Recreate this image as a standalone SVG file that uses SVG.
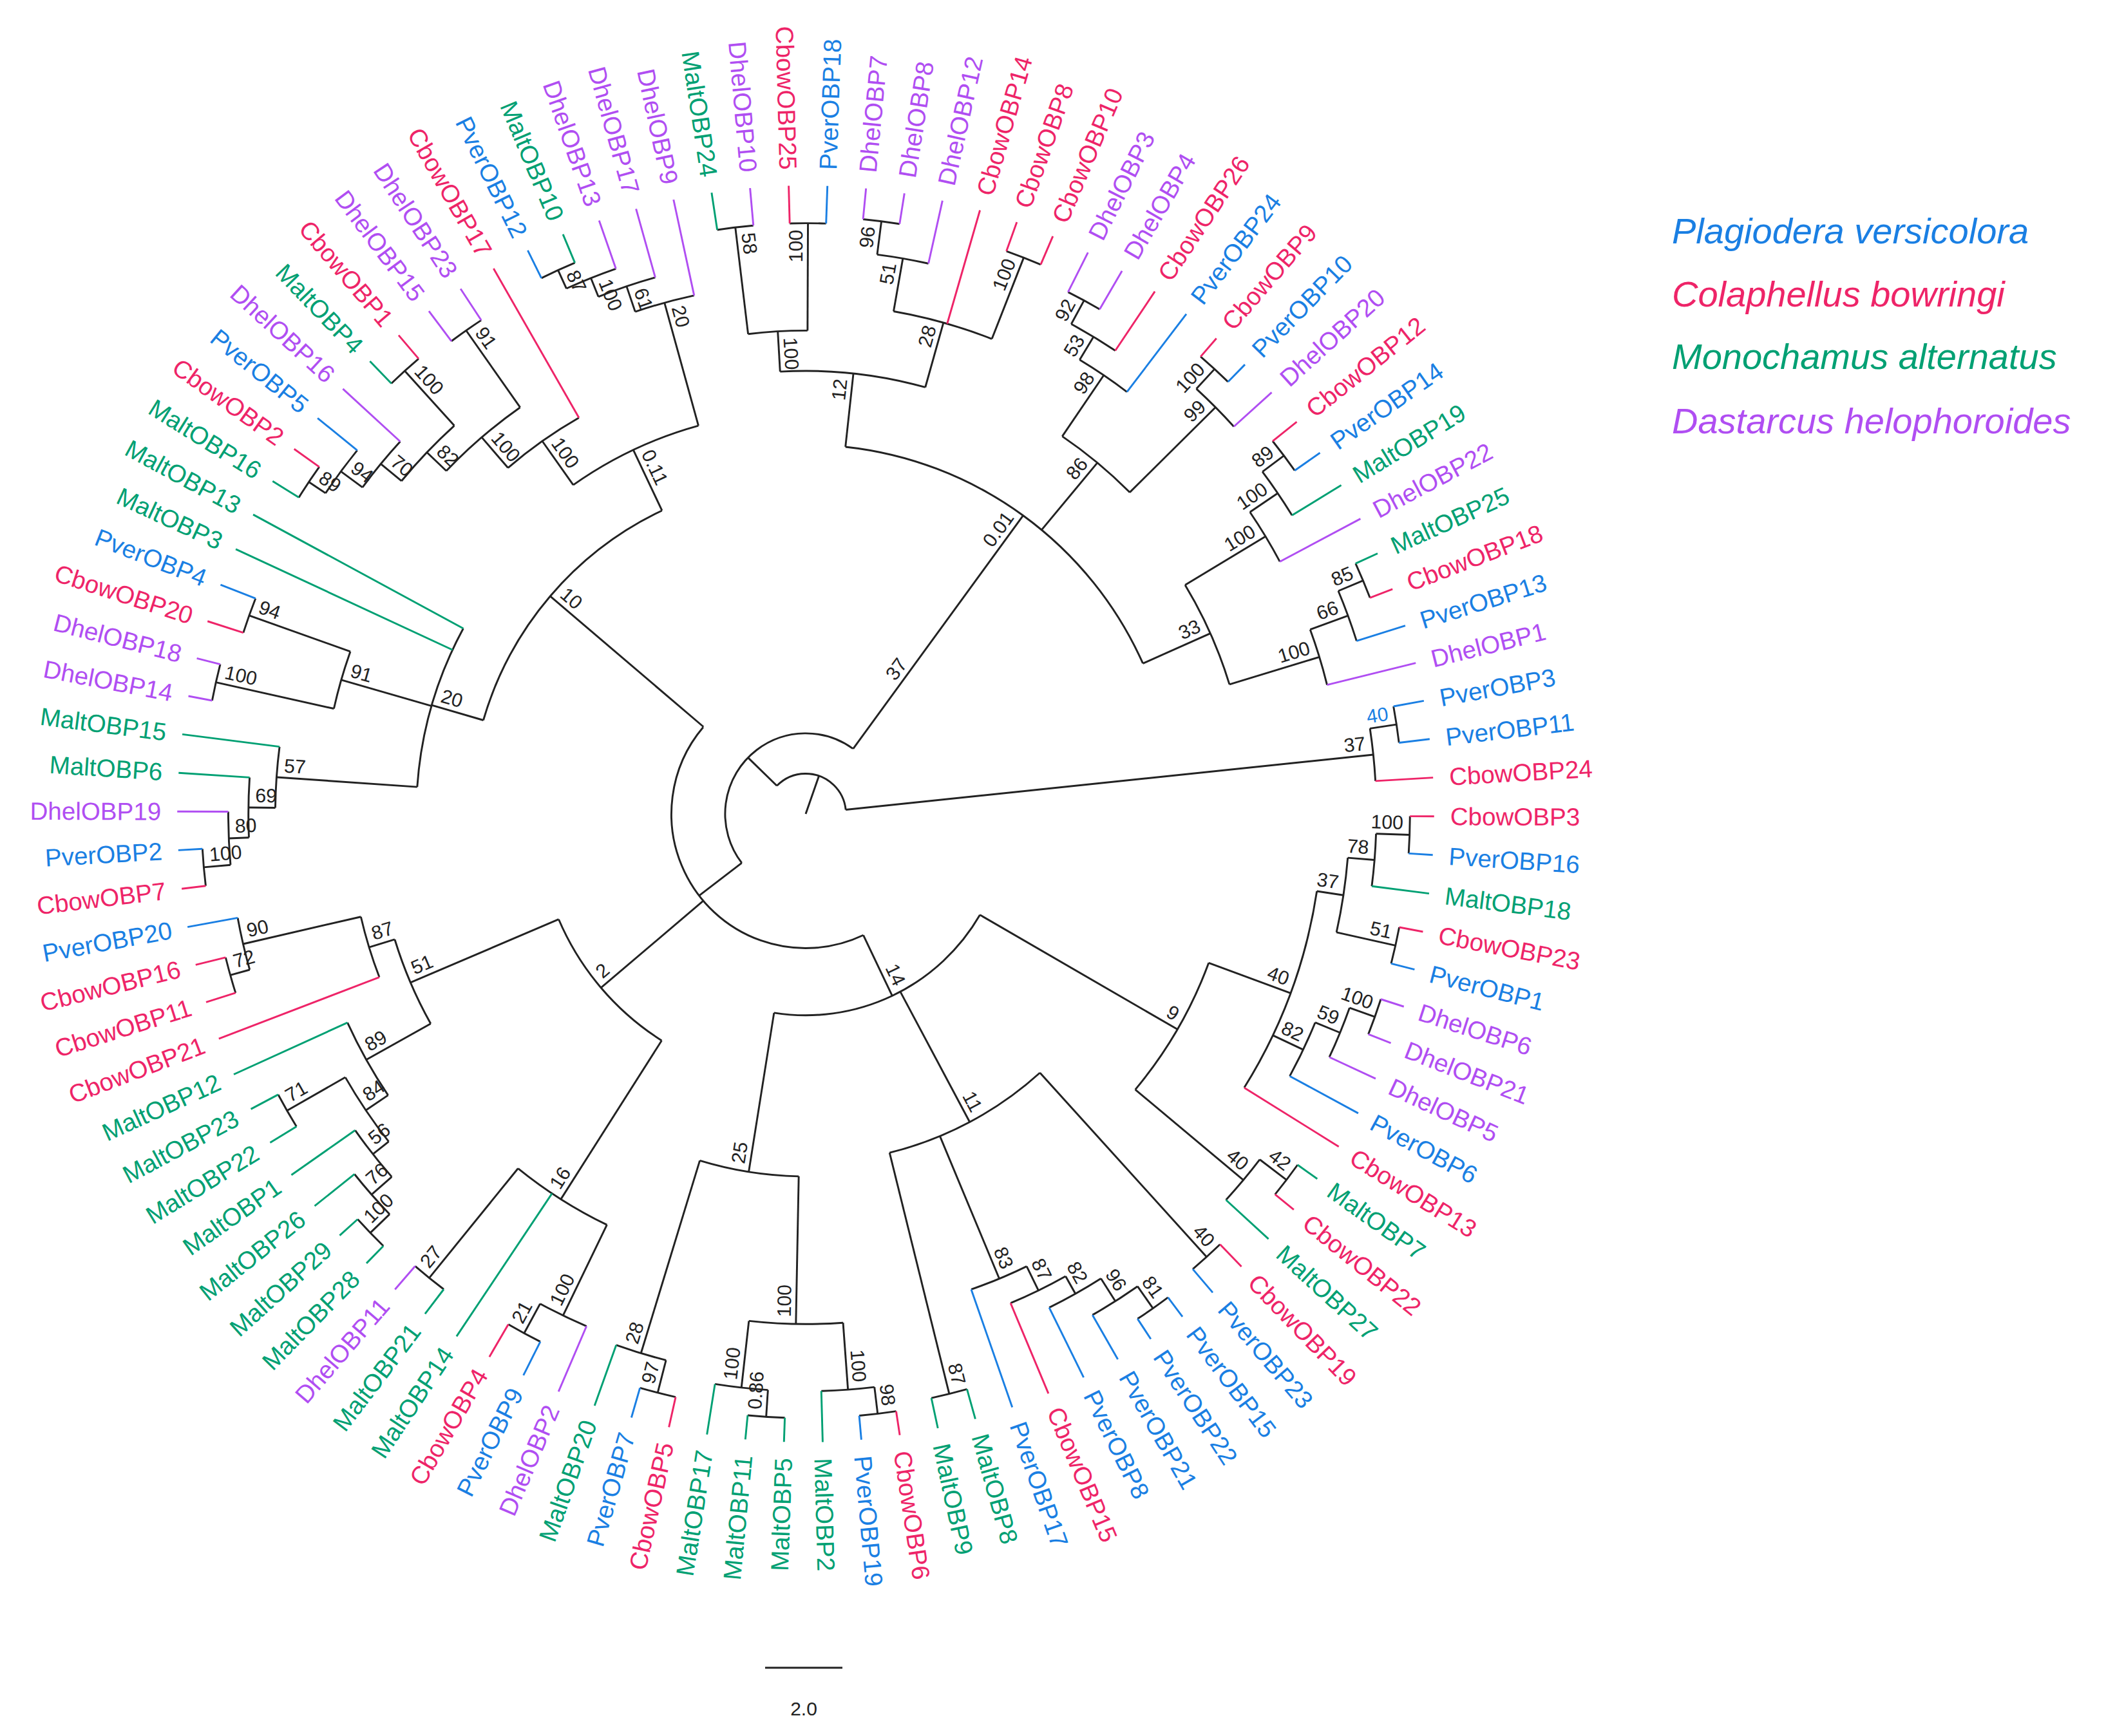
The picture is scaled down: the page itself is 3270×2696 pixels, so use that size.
<svg xmlns="http://www.w3.org/2000/svg" width="3270" height="2696" viewBox="0 0 3270 2696">
<style>
text{font-family:"Liberation Sans",Arial,sans-serif}
.lf{font-size:18.5px}
.tP{fill:#1a7fe3}.tC{fill:#ee2468}.tM{fill:#00a073}.tD{fill:#b04ef2}
.sP{stroke:#1a7fe3}.sC{stroke:#ee2468}.sM{stroke:#00a073}.sD{stroke:#b04ef2}
#connectors line,#connectors circle{fill:none;stroke-width:1.4}
.k{stroke:#222}
.bs text{font-size:14.5px;fill:#222}
.lg{font-size:56px;font-style:italic}
</style>
<rect width="3270" height="2696" fill="#fff"/>
<g transform="translate(1251,1264) scale(2.085)">
<g id="connectors">
<g class="k">
<circle r="445" pathLength="360" stroke-dasharray="3.53 360" transform="rotate(-10.37)"/><line x1="425" x2="445" transform="rotate(-8.61)"/>
<circle r="425" pathLength="360" stroke-dasharray="5.30 360" transform="rotate(-8.61)"/><line x1="30" x2="425" transform="rotate(-5.96)"/>
<circle r="440" pathLength="360" stroke-dasharray="3.53 360" transform="rotate(261.39)"/><line x1="360" x2="440" transform="rotate(263.16)"/>
<circle r="440" pathLength="360" stroke-dasharray="3.53 360" transform="rotate(268.45)"/><line x1="360" x2="440" transform="rotate(270.22)"/>
<circle r="360" pathLength="360" stroke-dasharray="7.06 360" transform="rotate(263.16)"/><line x1="330" x2="360" transform="rotate(266.69)"/>
<circle r="445" pathLength="360" stroke-dasharray="3.53 360" transform="rotate(275.51)"/><line x1="420" x2="445" transform="rotate(277.28)"/>
<circle r="420" pathLength="360" stroke-dasharray="5.29 360" transform="rotate(277.28)"/><line x1="380" x2="420" transform="rotate(279.92)"/>
<circle r="445" pathLength="360" stroke-dasharray="3.53 360" transform="rotate(289.63)"/><line x1="380" x2="445" transform="rotate(291.40)"/>
<circle r="380" pathLength="360" stroke-dasharray="11.48 360" transform="rotate(279.92)"/><line x1="330" x2="380" transform="rotate(285.66)"/>
<circle r="330" pathLength="360" stroke-dasharray="18.97 360" transform="rotate(266.69)"/><line x1="275" x2="330" transform="rotate(276.18)"/>
<circle r="435" pathLength="360" stroke-dasharray="3.53 360" transform="rotate(296.69)"/><line x1="415" x2="435" transform="rotate(298.46)"/>
<circle r="415" pathLength="360" stroke-dasharray="5.29 360" transform="rotate(298.46)"/><line x1="395" x2="415" transform="rotate(301.10)"/>
<circle r="395" pathLength="360" stroke-dasharray="6.18 360" transform="rotate(301.10)"/><line x1="340" x2="395" transform="rotate(304.19)"/>
<circle r="450" pathLength="360" stroke-dasharray="3.53 360" transform="rotate(310.81)"/><line x1="430" x2="450" transform="rotate(312.58)"/>
<circle r="430" pathLength="360" stroke-dasharray="5.28 360" transform="rotate(312.58)"/><line x1="340" x2="430" transform="rotate(315.22)"/>
<circle r="340" pathLength="360" stroke-dasharray="11.03 360" transform="rotate(304.19)"/><line x1="275" x2="340" transform="rotate(309.71)"/>
<circle r="445" pathLength="360" stroke-dasharray="3.53 360" transform="rotate(321.39)"/><line x1="425" x2="445" transform="rotate(323.16)"/>
<circle r="425" pathLength="360" stroke-dasharray="5.29 360" transform="rotate(323.16)"/><line x1="400" x2="425" transform="rotate(325.80)"/>
<circle r="400" pathLength="360" stroke-dasharray="6.18 360" transform="rotate(325.80)"/><line x1="330" x2="400" transform="rotate(328.89)"/>
<circle r="450" pathLength="360" stroke-dasharray="3.53 360" transform="rotate(335.51)"/><line x1="430" x2="450" transform="rotate(337.28)"/>
<circle r="430" pathLength="360" stroke-dasharray="5.29 360" transform="rotate(337.28)"/><line x1="400" x2="430" transform="rotate(339.92)"/>
<circle r="400" pathLength="360" stroke-dasharray="6.18 360" transform="rotate(339.92)"/><line x1="330" x2="400" transform="rotate(343.01)"/>
<circle r="330" pathLength="360" stroke-dasharray="14.12 360" transform="rotate(328.89)"/><line x1="275" x2="330" transform="rotate(335.95)"/>
<circle r="275" pathLength="360" stroke-dasharray="59.77 360" transform="rotate(276.18)"/><line x1="60" x2="275" transform="rotate(306.07)"/>
<circle r="450" pathLength="360" stroke-dasharray="3.53 360" transform="rotate(0.22)"/><line x1="425" x2="450" transform="rotate(1.99)"/>
<circle r="425" pathLength="360" stroke-dasharray="5.29 360" transform="rotate(1.99)"/><line x1="405" x2="425" transform="rotate(4.63)"/>
<circle r="450" pathLength="360" stroke-dasharray="3.53 360" transform="rotate(10.81)"/><line x1="405" x2="450" transform="rotate(12.58)"/>
<circle r="405" pathLength="360" stroke-dasharray="7.95 360" transform="rotate(4.63)"/><line x1="385" x2="405" transform="rotate(8.60)"/>
<circle r="450" pathLength="360" stroke-dasharray="3.53 360" transform="rotate(17.86)"/><line x1="430" x2="450" transform="rotate(19.63)"/>
<circle r="430" pathLength="360" stroke-dasharray="5.29 360" transform="rotate(19.63)"/><line x1="410" x2="430" transform="rotate(22.27)"/>
<circle r="410" pathLength="360" stroke-dasharray="6.18 360" transform="rotate(22.27)"/><line x1="385" x2="410" transform="rotate(25.36)"/>
<circle r="385" pathLength="360" stroke-dasharray="23.38 360" transform="rotate(8.60)"/><line x1="320" x2="385" transform="rotate(20.29)"/>
<circle r="450" pathLength="360" stroke-dasharray="3.53 360" transform="rotate(35.51)"/><line x1="425" x2="450" transform="rotate(37.28)"/>
<circle r="425" pathLength="360" stroke-dasharray="5.29 360" transform="rotate(37.28)"/><line x1="320" x2="425" transform="rotate(39.92)"/>
<circle r="320" pathLength="360" stroke-dasharray="19.63 360" transform="rotate(20.29)"/><line x1="150" x2="320" transform="rotate(30.10)"/>
<circle r="445" pathLength="360" stroke-dasharray="3.53 360" transform="rotate(46.10)"/><line x1="260" x2="445" transform="rotate(47.86)"/>
<circle r="450" pathLength="360" stroke-dasharray="3.53 360" transform="rotate(53.16)"/><line x1="430" x2="450" transform="rotate(54.92)"/>
<circle r="430" pathLength="360" stroke-dasharray="5.30 360" transform="rotate(54.92)"/><line x1="410" x2="430" transform="rotate(57.57)"/>
<circle r="410" pathLength="360" stroke-dasharray="6.18 360" transform="rotate(57.57)"/><line x1="395" x2="410" transform="rotate(60.66)"/>
<circle r="395" pathLength="360" stroke-dasharray="6.62 360" transform="rotate(60.66)"/><line x1="375" x2="395" transform="rotate(63.97)"/>
<circle r="375" pathLength="360" stroke-dasharray="6.84 360" transform="rotate(63.97)"/><line x1="260" x2="375" transform="rotate(67.39)"/>
<circle r="445" pathLength="360" stroke-dasharray="3.52 360" transform="rotate(74.34)"/><line x1="260" x2="445" transform="rotate(76.10)"/>
<circle r="260" pathLength="360" stroke-dasharray="28.24 360" transform="rotate(47.86)"/><line x1="150" x2="260" transform="rotate(61.98)"/>
<circle r="450" pathLength="360" stroke-dasharray="3.53 360" transform="rotate(81.39)"/><line x1="430" x2="450" transform="rotate(83.16)"/>
<circle r="430" pathLength="360" stroke-dasharray="5.29 360" transform="rotate(83.16)"/><line x1="380" x2="430" transform="rotate(85.80)"/>
<circle r="450" pathLength="360" stroke-dasharray="3.53 360" transform="rotate(91.98)"/><line x1="430" x2="450" transform="rotate(93.75)"/>
<circle r="430" pathLength="360" stroke-dasharray="5.29 360" transform="rotate(93.75)"/><line x1="380" x2="430" transform="rotate(96.39)"/>
<circle r="380" pathLength="360" stroke-dasharray="10.59 360" transform="rotate(85.80)"/><line x1="270" x2="380" transform="rotate(91.10)"/>
<circle r="445" pathLength="360" stroke-dasharray="3.53 360" transform="rotate(102.57)"/><line x1="420" x2="445" transform="rotate(104.34)"/>
<circle r="420" pathLength="360" stroke-dasharray="5.29 360" transform="rotate(104.34)"/><line x1="270" x2="420" transform="rotate(106.98)"/>
<circle r="270" pathLength="360" stroke-dasharray="15.88 360" transform="rotate(91.10)"/><line x1="150" x2="270" transform="rotate(99.04)"/>
<circle r="150" pathLength="360" stroke-dasharray="68.94 360" transform="rotate(30.10)"/><line x1="100" x2="150" transform="rotate(64.57)"/>
<circle r="440" pathLength="360" stroke-dasharray="3.53 360" transform="rotate(116.69)"/><line x1="415" x2="440" transform="rotate(118.46)"/>
<circle r="415" pathLength="360" stroke-dasharray="5.30 360" transform="rotate(113.16)"/><line x1="340" x2="415" transform="rotate(115.81)"/>
<circle r="445" pathLength="360" stroke-dasharray="3.53 360" transform="rotate(127.28)"/><line x1="340" x2="445" transform="rotate(129.05)"/>
<circle r="340" pathLength="360" stroke-dasharray="13.24 360" transform="rotate(115.81)"/><line x1="200" x2="340" transform="rotate(122.43)"/>
<circle r="450" pathLength="360" stroke-dasharray="3.52 360" transform="rotate(134.34)"/><line x1="430" x2="450" transform="rotate(136.10)"/>
<circle r="430" pathLength="360" stroke-dasharray="5.29 360" transform="rotate(136.10)"/><line x1="410" x2="430" transform="rotate(138.75)"/>
<circle r="410" pathLength="360" stroke-dasharray="6.17 360" transform="rotate(138.75)"/><line x1="395" x2="410" transform="rotate(141.83)"/>
<circle r="445" pathLength="360" stroke-dasharray="3.53 360" transform="rotate(148.45)"/><line x1="395" x2="445" transform="rotate(150.22)"/>
<circle r="395" pathLength="360" stroke-dasharray="8.39 360" transform="rotate(141.83)"/><line x1="375" x2="395" transform="rotate(146.03)"/>
<circle r="375" pathLength="360" stroke-dasharray="9.48 360" transform="rotate(146.03)"/><line x1="320" x2="375" transform="rotate(150.77)"/>
<circle r="445" pathLength="360" stroke-dasharray="3.53 360" transform="rotate(162.57)"/><line x1="430" x2="445" transform="rotate(164.34)"/>
<circle r="430" pathLength="360" stroke-dasharray="5.29 360" transform="rotate(164.34)"/><line x1="340" x2="430" transform="rotate(166.98)"/>
<circle r="340" pathLength="360" stroke-dasharray="7.94 360" transform="rotate(159.04)"/><line x1="320" x2="340" transform="rotate(163.01)"/>
<circle r="320" pathLength="360" stroke-dasharray="12.24 360" transform="rotate(150.77)"/><line x1="200" x2="320" transform="rotate(156.89)"/>
<circle r="200" pathLength="360" stroke-dasharray="34.46 360" transform="rotate(122.43)"/><line x1="100" x2="200" transform="rotate(139.66)"/>
<circle r="450" pathLength="360" stroke-dasharray="3.53 360" transform="rotate(173.16)"/><line x1="430" x2="450" transform="rotate(174.93)"/>
<circle r="430" pathLength="360" stroke-dasharray="5.29 360" transform="rotate(174.93)"/><line x1="415" x2="430" transform="rotate(177.57)"/>
<circle r="415" pathLength="360" stroke-dasharray="6.18 360" transform="rotate(177.57)"/><line x1="395" x2="415" transform="rotate(180.66)"/>
<circle r="395" pathLength="360" stroke-dasharray="6.62 360" transform="rotate(180.66)"/><line x1="290" x2="395" transform="rotate(183.97)"/>
<circle r="450" pathLength="360" stroke-dasharray="3.53 360" transform="rotate(190.81)"/><line x1="360" x2="450" transform="rotate(192.58)"/>
<circle r="440" pathLength="360" stroke-dasharray="3.53 360" transform="rotate(197.86)"/><line x1="360" x2="440" transform="rotate(199.63)"/>
<circle r="360" pathLength="360" stroke-dasharray="7.05 360" transform="rotate(192.58)"/><line x1="290" x2="360" transform="rotate(196.10)"/>
<circle r="290" pathLength="360" stroke-dasharray="24.48 360" transform="rotate(183.97)"/><line x1="250" x2="290" transform="rotate(196.21)"/>
<circle r="445" pathLength="360" stroke-dasharray="3.53 360" transform="rotate(211.98)"/><line x1="430" x2="445" transform="rotate(213.75)"/>
<circle r="430" pathLength="360" stroke-dasharray="5.29 360" transform="rotate(213.75)"/><line x1="410" x2="430" transform="rotate(216.39)"/>
<circle r="410" pathLength="360" stroke-dasharray="6.18 360" transform="rotate(216.39)"/><line x1="390" x2="410" transform="rotate(219.48)"/>
<circle r="445" pathLength="360" stroke-dasharray="3.53 360" transform="rotate(226.10)"/><line x1="390" x2="445" transform="rotate(227.86)"/>
<circle r="390" pathLength="360" stroke-dasharray="8.38 360" transform="rotate(219.48)"/><line x1="370" x2="390" transform="rotate(223.67)"/>
<circle r="440" pathLength="360" stroke-dasharray="3.53 360" transform="rotate(233.16)"/><line x1="370" x2="440" transform="rotate(234.92)"/>
<circle r="370" pathLength="360" stroke-dasharray="11.25 360" transform="rotate(223.67)"/><line x1="340" x2="370" transform="rotate(229.30)"/>
<circle r="340" pathLength="360" stroke-dasharray="10.92 360" transform="rotate(229.30)"/><line x1="300" x2="340" transform="rotate(234.76)"/>
<circle r="445" pathLength="360" stroke-dasharray="3.53 360" transform="rotate(243.75)"/><line x1="430" x2="445" transform="rotate(245.52)"/>
<circle r="430" pathLength="360" stroke-dasharray="5.29 360" transform="rotate(245.52)"/><line x1="415" x2="430" transform="rotate(248.16)"/>
<circle r="415" pathLength="360" stroke-dasharray="6.18 360" transform="rotate(248.16)"/><line x1="395" x2="415" transform="rotate(251.25)"/>
<circle r="395" pathLength="360" stroke-dasharray="6.61 360" transform="rotate(251.25)"/><line x1="300" x2="395" transform="rotate(254.56)"/>
<circle r="300" pathLength="360" stroke-dasharray="19.80 360" transform="rotate(234.76)"/><line x1="250" x2="300" transform="rotate(244.66)"/>
<circle r="250" pathLength="360" stroke-dasharray="48.45 360" transform="rotate(196.21)"/><line x1="100" x2="250" transform="rotate(220.44)"/>
<circle r="100" pathLength="360" stroke-dasharray="155.87 360" transform="rotate(64.57)"/><line x1="60" x2="100" transform="rotate(142.5)"/>
<circle r="60" pathLength="360" stroke-dasharray="163.57 360" transform="rotate(142.5)"/><line x1="30" x2="60" transform="rotate(224.3)"/>
<circle r="30" pathLength="360" stroke-dasharray="129.74 360" transform="rotate(224.3)"/><line x1="0" x2="30" transform="rotate(289.2)"/>
</g>
<line class="sP" x1="445" x2="468" transform="rotate(-10.37)"/>
<line class="sP" x1="445" x2="468" transform="rotate(-6.84)"/>
<line class="sC" x1="425" x2="468" transform="rotate(-3.31)"/>
<line class="sC" x1="450" x2="468" transform="rotate(0.22)"/>
<line class="sP" x1="450" x2="468" transform="rotate(3.75)"/>
<line class="sM" x1="425" x2="468" transform="rotate(7.28)"/>
<line class="sC" x1="450" x2="468" transform="rotate(10.81)"/>
<line class="sP" x1="450" x2="468" transform="rotate(14.34)"/>
<line class="sD" x1="450" x2="468" transform="rotate(17.86)"/>
<line class="sD" x1="450" x2="468" transform="rotate(21.39)"/>
<line class="sD" x1="430" x2="468" transform="rotate(24.92)"/>
<line class="sP" x1="410" x2="468" transform="rotate(28.45)"/>
<line class="sC" x1="385" x2="468" transform="rotate(31.98)"/>
<line class="sM" x1="450" x2="468" transform="rotate(35.51)"/>
<line class="sC" x1="450" x2="468" transform="rotate(39.04)"/>
<line class="sM" x1="425" x2="468" transform="rotate(42.57)"/>
<line class="sC" x1="445" x2="468" transform="rotate(46.10)"/>
<line class="sP" x1="445" x2="468" transform="rotate(49.63)"/>
<line class="sP" x1="450" x2="468" transform="rotate(53.16)"/>
<line class="sP" x1="450" x2="468" transform="rotate(56.69)"/>
<line class="sP" x1="430" x2="468" transform="rotate(60.22)"/>
<line class="sP" x1="410" x2="468" transform="rotate(63.75)"/>
<line class="sC" x1="395" x2="468" transform="rotate(67.28)"/>
<line class="sP" x1="375" x2="468" transform="rotate(70.81)"/>
<line class="sM" x1="445" x2="468" transform="rotate(74.34)"/>
<line class="sM" x1="445" x2="468" transform="rotate(77.86)"/>
<line class="sC" x1="450" x2="468" transform="rotate(81.39)"/>
<line class="sP" x1="450" x2="468" transform="rotate(84.92)"/>
<line class="sM" x1="430" x2="468" transform="rotate(88.45)"/>
<line class="sM" x1="450" x2="468" transform="rotate(91.98)"/>
<line class="sM" x1="450" x2="468" transform="rotate(95.51)"/>
<line class="sM" x1="430" x2="468" transform="rotate(99.04)"/>
<line class="sC" x1="445" x2="468" transform="rotate(102.57)"/>
<line class="sP" x1="445" x2="468" transform="rotate(106.10)"/>
<line class="sM" x1="420" x2="468" transform="rotate(109.63)"/>
<line class="sD" x1="415" x2="468" transform="rotate(113.16)"/>
<line class="sP" x1="440" x2="468" transform="rotate(116.69)"/>
<line class="sC" x1="440" x2="468" transform="rotate(120.22)"/>
<line class="sM" x1="340" x2="468" transform="rotate(123.75)"/>
<line class="sM" x1="445" x2="468" transform="rotate(127.28)"/>
<line class="sD" x1="445" x2="468" transform="rotate(130.81)"/>
<line class="sM" x1="450" x2="468" transform="rotate(134.34)"/>
<line class="sM" x1="450" x2="468" transform="rotate(137.86)"/>
<line class="sM" x1="430" x2="468" transform="rotate(141.39)"/>
<line class="sM" x1="410" x2="468" transform="rotate(144.92)"/>
<line class="sM" x1="445" x2="468" transform="rotate(148.45)"/>
<line class="sM" x1="445" x2="468" transform="rotate(151.98)"/>
<line class="sM" x1="375" x2="468" transform="rotate(155.51)"/>
<line class="sC" x1="340" x2="468" transform="rotate(159.04)"/>
<line class="sC" x1="445" x2="468" transform="rotate(162.57)"/>
<line class="sC" x1="445" x2="468" transform="rotate(166.10)"/>
<line class="sP" x1="430" x2="468" transform="rotate(169.63)"/>
<line class="sC" x1="450" x2="468" transform="rotate(173.16)"/>
<line class="sP" x1="450" x2="468" transform="rotate(176.69)"/>
<line class="sD" x1="430" x2="468" transform="rotate(180.22)"/>
<line class="sM" x1="415" x2="468" transform="rotate(183.75)"/>
<line class="sM" x1="395" x2="468" transform="rotate(187.28)"/>
<line class="sD" x1="450" x2="468" transform="rotate(190.81)"/>
<line class="sD" x1="450" x2="468" transform="rotate(194.34)"/>
<line class="sC" x1="440" x2="468" transform="rotate(197.86)"/>
<line class="sP" x1="440" x2="468" transform="rotate(201.39)"/>
<line class="sM" x1="290" x2="468" transform="rotate(204.92)"/>
<line class="sM" x1="290" x2="468" transform="rotate(208.45)"/>
<line class="sM" x1="445" x2="468" transform="rotate(211.98)"/>
<line class="sC" x1="445" x2="468" transform="rotate(215.51)"/>
<line class="sP" x1="430" x2="468" transform="rotate(219.04)"/>
<line class="sD" x1="410" x2="468" transform="rotate(222.57)"/>
<line class="sM" x1="445" x2="468" transform="rotate(226.10)"/>
<line class="sC" x1="445" x2="468" transform="rotate(229.63)"/>
<line class="sD" x1="440" x2="468" transform="rotate(233.16)"/>
<line class="sD" x1="440" x2="468" transform="rotate(236.69)"/>
<line class="sC" x1="340" x2="468" transform="rotate(240.22)"/>
<line class="sP" x1="445" x2="468" transform="rotate(243.75)"/>
<line class="sM" x1="445" x2="468" transform="rotate(247.28)"/>
<line class="sD" x1="430" x2="468" transform="rotate(250.81)"/>
<line class="sD" x1="415" x2="468" transform="rotate(254.34)"/>
<line class="sD" x1="395" x2="468" transform="rotate(257.86)"/>
<line class="sM" x1="440" x2="468" transform="rotate(261.39)"/>
<line class="sD" x1="440" x2="468" transform="rotate(264.92)"/>
<line class="sC" x1="440" x2="468" transform="rotate(268.45)"/>
<line class="sP" x1="440" x2="468" transform="rotate(271.98)"/>
<line class="sD" x1="445" x2="468" transform="rotate(275.51)"/>
<line class="sD" x1="445" x2="468" transform="rotate(279.04)"/>
<line class="sD" x1="420" x2="468" transform="rotate(282.57)"/>
<line class="sC" x1="380" x2="468" transform="rotate(286.10)"/>
<line class="sC" x1="445" x2="468" transform="rotate(289.63)"/>
<line class="sC" x1="445" x2="468" transform="rotate(293.16)"/>
<line class="sD" x1="435" x2="468" transform="rotate(296.69)"/>
<line class="sD" x1="435" x2="468" transform="rotate(300.22)"/>
<line class="sC" x1="415" x2="468" transform="rotate(303.75)"/>
<line class="sP" x1="395" x2="468" transform="rotate(307.28)"/>
<line class="sC" x1="450" x2="468" transform="rotate(310.81)"/>
<line class="sP" x1="450" x2="468" transform="rotate(314.34)"/>
<line class="sD" x1="430" x2="468" transform="rotate(317.86)"/>
<line class="sC" x1="445" x2="468" transform="rotate(321.39)"/>
<line class="sP" x1="445" x2="468" transform="rotate(324.92)"/>
<line class="sM" x1="425" x2="468" transform="rotate(328.45)"/>
<line class="sD" x1="400" x2="468" transform="rotate(331.98)"/>
<line class="sM" x1="450" x2="468" transform="rotate(335.51)"/>
<line class="sC" x1="450" x2="468" transform="rotate(339.04)"/>
<line class="sP" x1="430" x2="468" transform="rotate(342.57)"/>
<line class="sD" x1="400" x2="468" transform="rotate(346.10)"/>
</g>
<g class="bs">
<text x="440" y="-4" text-anchor="end" transform="rotate(-8.61)" style="fill:#1a7fe3">40</text>
<text x="420" y="-4" text-anchor="end" transform="rotate(-5.96)">37</text>
<text x="-435" y="-4" transform="rotate(83.16)">58</text>
<text x="435" y="-4" text-anchor="end" transform="rotate(270.22)">100</text>
<text x="-355" y="-4" transform="rotate(86.69)">100</text>
<text x="440" y="-4" text-anchor="end" transform="rotate(277.28)">96</text>
<text x="415" y="-4" text-anchor="end" transform="rotate(279.92)">51</text>
<text x="375" y="-4" text-anchor="end" transform="rotate(285.66)">28</text>
<text x="325" y="-4" text-anchor="end" transform="rotate(276.18)">12</text>
<text x="440" y="-4" text-anchor="end" transform="rotate(291.40)">100</text>
<text x="270" y="-4" text-anchor="end" transform="rotate(306.07)">0.01</text>
<text x="135" y="-4" text-anchor="end" transform="rotate(306.07)">37</text>
<text x="430" y="-4" text-anchor="end" transform="rotate(298.46)">92</text>
<text x="410" y="-4" text-anchor="end" transform="rotate(301.10)">53</text>
<text x="390" y="-4" text-anchor="end" transform="rotate(304.19)">98</text>
<text x="445" y="-4" text-anchor="end" transform="rotate(312.58)">100</text>
<text x="425" y="-4" text-anchor="end" transform="rotate(315.22)">99</text>
<text x="335" y="-4" text-anchor="end" transform="rotate(309.71)">86</text>
<text x="440" y="-4" text-anchor="end" transform="rotate(323.16)">89</text>
<text x="420" y="-4" text-anchor="end" transform="rotate(325.80)">100</text>
<text x="395" y="-4" text-anchor="end" transform="rotate(328.89)">100</text>
<text x="445" y="-4" text-anchor="end" transform="rotate(337.28)">85</text>
<text x="425" y="-4" text-anchor="end" transform="rotate(339.92)">66</text>
<text x="395" y="-4" text-anchor="end" transform="rotate(343.01)">100</text>
<text x="325" y="-4" text-anchor="end" transform="rotate(335.95)">33</text>
<text x="445" y="-4" text-anchor="end" transform="rotate(1.99)">100</text>
<text x="420" y="-4" text-anchor="end" transform="rotate(4.63)">78</text>
<text x="445" y="-4" text-anchor="end" transform="rotate(12.58)">51</text>
<text x="400" y="-4" text-anchor="end" transform="rotate(8.60)">37</text>
<text x="445" y="-4" text-anchor="end" transform="rotate(19.63)">100</text>
<text x="425" y="-4" text-anchor="end" transform="rotate(22.27)">59</text>
<text x="405" y="-4" text-anchor="end" transform="rotate(25.36)">82</text>
<text x="380" y="-4" text-anchor="end" transform="rotate(20.29)">40</text>
<text x="315" y="-4" text-anchor="end" transform="rotate(30.10)">9</text>
<text x="445" y="-4" text-anchor="end" transform="rotate(37.28)">42</text>
<text x="420" y="-4" text-anchor="end" transform="rotate(39.92)">40</text>
<text x="440" y="-4" text-anchor="end" transform="rotate(47.86)">40</text>
<text x="445" y="-4" text-anchor="end" transform="rotate(54.92)">81</text>
<text x="425" y="-4" text-anchor="end" transform="rotate(57.57)">96</text>
<text x="405" y="-4" text-anchor="end" transform="rotate(60.66)">82</text>
<text x="390" y="-4" text-anchor="end" transform="rotate(63.97)">87</text>
<text x="370" y="-4" text-anchor="end" transform="rotate(67.39)">83</text>
<text x="440" y="-4" text-anchor="end" transform="rotate(76.10)">87</text>
<text x="255" y="-4" text-anchor="end" transform="rotate(61.98)">11</text>
<text x="145" y="-4" text-anchor="end" transform="rotate(64.57)">14</text>
<text x="445" y="-4" text-anchor="end" transform="rotate(83.16)">98</text>
<text x="425" y="-4" text-anchor="end" transform="rotate(85.80)">100</text>
<text x="-445" y="-4" transform="rotate(-86.25)">0.86</text>
<text x="-425" y="-4" transform="rotate(-83.61)">100</text>
<text x="-375" y="-4" transform="rotate(-88.90)">100</text>
<text x="-440" y="-4" transform="rotate(-75.66)">97</text>
<text x="-415" y="-4" transform="rotate(-73.02)">28</text>
<text x="-265" y="-4" transform="rotate(-80.96)">25</text>
<text x="-435" y="-4" transform="rotate(-61.54)">21</text>
<text x="-410" y="-4" transform="rotate(-64.19)">100</text>
<text x="-440" y="-4" transform="rotate(-50.95)">27</text>
<text x="-335" y="-4" transform="rotate(-57.57)">16</text>
<text x="-445" y="-4" transform="rotate(-43.90)">100</text>
<text x="-425" y="-4" transform="rotate(-41.25)">76</text>
<text x="-405" y="-4" transform="rotate(-38.17)">56</text>
<text x="-390" y="-4" transform="rotate(-33.97)">84</text>
<text x="-440" y="-4" transform="rotate(-29.78)">71</text>
<text x="-370" y="-4" transform="rotate(-29.23)">89</text>
<text x="-440" y="-4" transform="rotate(-15.66)">72</text>
<text x="-425" y="-4" transform="rotate(-13.02)">90</text>
<text x="-335" y="-4" transform="rotate(-16.99)">87</text>
<text x="-315" y="-4" transform="rotate(-23.11)">51</text>
<text x="-195" y="-4" transform="rotate(-40.34)">2</text>
<text x="-445" y="-4" transform="rotate(-5.07)">100</text>
<text x="-425" y="-4" transform="rotate(-2.43)">80</text>
<text x="-410" y="-4" transform="rotate(0.66)">69</text>
<text x="-390" y="-4" transform="rotate(3.97)">57</text>
<text x="-445" y="-4" transform="rotate(12.58)">100</text>
<text x="-435" y="-4" transform="rotate(19.63)">94</text>
<text x="-355" y="-4" transform="rotate(16.10)">91</text>
<text x="-285" y="-4" transform="rotate(16.21)">20</text>
<text x="-440" y="-4" transform="rotate(33.75)">89</text>
<text x="-425" y="-4" transform="rotate(36.39)">94</text>
<text x="-405" y="-4" transform="rotate(39.48)">70</text>
<text x="-440" y="-4" transform="rotate(47.86)">100</text>
<text x="-385" y="-4" transform="rotate(43.67)">82</text>
<text x="-435" y="-4" transform="rotate(54.92)">91</text>
<text x="-365" y="-4" transform="rotate(49.30)">100</text>
<text x="-335" y="-4" transform="rotate(54.76)">100</text>
<text x="-440" y="-4" transform="rotate(65.52)">87</text>
<text x="-425" y="-4" transform="rotate(68.16)">100</text>
<text x="-410" y="-4" transform="rotate(71.25)">61</text>
<text x="-390" y="-4" transform="rotate(74.56)">20</text>
<text x="-295" y="-4" transform="rotate(64.66)">0.11</text>
<text x="-245" y="-4" transform="rotate(40.44)">10</text>
</g>
<g class="lf">
<g id="PverOBP3"><text class="tP" x="480" dy=".35em" transform="rotate(-10.37)">PverOBP3</text></g>
<g id="PverOBP11"><text class="tP" x="480" dy=".35em" transform="rotate(-6.84)">PverOBP11</text></g>
<g id="CbowOBP24"><text class="tC" x="480" dy=".35em" transform="rotate(-3.31)">CbowOBP24</text></g>
<g id="CbowOBP3"><text class="tC" x="480" dy=".35em" transform="rotate(0.22)">CbowOBP3</text></g>
<g id="PverOBP16"><text class="tP" x="480" dy=".35em" transform="rotate(3.75)">PverOBP16</text></g>
<g id="MaltOBP18"><text class="tM" x="480" dy=".35em" transform="rotate(7.28)">MaltOBP18</text></g>
<g id="CbowOBP23"><text class="tC" x="480" dy=".35em" transform="rotate(10.81)">CbowOBP23</text></g>
<g id="PverOBP1"><text class="tP" x="480" dy=".35em" transform="rotate(14.34)">PverOBP1</text></g>
<g id="DhelOBP6"><text class="tD" x="480" dy=".35em" transform="rotate(17.86)">DhelOBP6</text></g>
<g id="DhelOBP21"><text class="tD" x="480" dy=".35em" transform="rotate(21.39)">DhelOBP21</text></g>
<g id="DhelOBP5"><text class="tD" x="480" dy=".35em" transform="rotate(24.92)">DhelOBP5</text></g>
<g id="PverOBP6"><text class="tP" x="480" dy=".35em" transform="rotate(28.45)">PverOBP6</text></g>
<g id="CbowOBP13"><text class="tC" x="480" dy=".35em" transform="rotate(31.98)">CbowOBP13</text></g>
<g id="MaltOBP7"><text class="tM" x="480" dy=".35em" transform="rotate(35.51)">MaltOBP7</text></g>
<g id="CbowOBP22"><text class="tC" x="480" dy=".35em" transform="rotate(39.04)">CbowOBP22</text></g>
<g id="MaltOBP27"><text class="tM" x="480" dy=".35em" transform="rotate(42.57)">MaltOBP27</text></g>
<g id="CbowOBP19"><text class="tC" x="480" dy=".35em" transform="rotate(46.10)">CbowOBP19</text></g>
<g id="PverOBP23"><text class="tP" x="480" dy=".35em" transform="rotate(49.63)">PverOBP23</text></g>
<g id="PverOBP15"><text class="tP" x="480" dy=".35em" transform="rotate(53.16)">PverOBP15</text></g>
<g id="PverOBP22"><text class="tP" x="480" dy=".35em" transform="rotate(56.69)">PverOBP22</text></g>
<g id="PverOBP21"><text class="tP" x="480" dy=".35em" transform="rotate(60.22)">PverOBP21</text></g>
<g id="PverOBP8"><text class="tP" x="480" dy=".35em" transform="rotate(63.75)">PverOBP8</text></g>
<g id="CbowOBP15"><text class="tC" x="480" dy=".35em" transform="rotate(67.28)">CbowOBP15</text></g>
<g id="PverOBP17"><text class="tP" x="480" dy=".35em" transform="rotate(70.81)">PverOBP17</text></g>
<g id="MaltOBP8"><text class="tM" x="480" dy=".35em" transform="rotate(74.34)">MaltOBP8</text></g>
<g id="MaltOBP9"><text class="tM" x="480" dy=".35em" transform="rotate(77.86)">MaltOBP9</text></g>
<g id="CbowOBP6"><text class="tC" x="480" dy=".35em" transform="rotate(81.39)">CbowOBP6</text></g>
<g id="PverOBP19"><text class="tP" x="480" dy=".35em" transform="rotate(84.92)">PverOBP19</text></g>
<g id="MaltOBP2"><text class="tM" x="480" dy=".35em" transform="rotate(88.45)">MaltOBP2</text></g>
<g id="MaltOBP5"><text class="tM" x="-480" dy=".35em" text-anchor="end" transform="rotate(-88.02)">MaltOBP5</text></g>
<g id="MaltOBP11"><text class="tM" x="-480" dy=".35em" text-anchor="end" transform="rotate(-84.49)">MaltOBP11</text></g>
<g id="MaltOBP17"><text class="tM" x="-480" dy=".35em" text-anchor="end" transform="rotate(-80.96)">MaltOBP17</text></g>
<g id="CbowOBP5"><text class="tC" x="-480" dy=".35em" text-anchor="end" transform="rotate(-77.43)">CbowOBP5</text></g>
<g id="PverOBP7"><text class="tP" x="-480" dy=".35em" text-anchor="end" transform="rotate(-73.90)">PverOBP7</text></g>
<g id="MaltOBP20"><text class="tM" x="-480" dy=".35em" text-anchor="end" transform="rotate(-70.37)">MaltOBP20</text></g>
<g id="DhelOBP2"><text class="tD" x="-480" dy=".35em" text-anchor="end" transform="rotate(-66.84)">DhelOBP2</text></g>
<g id="PverOBP9"><text class="tP" x="-480" dy=".35em" text-anchor="end" transform="rotate(-63.31)">PverOBP9</text></g>
<g id="CbowOBP4"><text class="tC" x="-480" dy=".35em" text-anchor="end" transform="rotate(-59.78)">CbowOBP4</text></g>
<g id="MaltOBP14"><text class="tM" x="-480" dy=".35em" text-anchor="end" transform="rotate(-56.25)">MaltOBP14</text></g>
<g id="MaltOBP21"><text class="tM" x="-480" dy=".35em" text-anchor="end" transform="rotate(-52.72)">MaltOBP21</text></g>
<g id="DhelOBP11"><text class="tD" x="-480" dy=".35em" text-anchor="end" transform="rotate(-49.19)">DhelOBP11</text></g>
<g id="MaltOBP28"><text class="tM" x="-480" dy=".35em" text-anchor="end" transform="rotate(-45.66)">MaltOBP28</text></g>
<g id="MaltOBP29"><text class="tM" x="-480" dy=".35em" text-anchor="end" transform="rotate(-42.14)">MaltOBP29</text></g>
<g id="MaltOBP26"><text class="tM" x="-480" dy=".35em" text-anchor="end" transform="rotate(-38.61)">MaltOBP26</text></g>
<g id="MaltOBP1"><text class="tM" x="-480" dy=".35em" text-anchor="end" transform="rotate(-35.08)">MaltOBP1</text></g>
<g id="MaltOBP22"><text class="tM" x="-480" dy=".35em" text-anchor="end" transform="rotate(-31.55)">MaltOBP22</text></g>
<g id="MaltOBP23"><text class="tM" x="-480" dy=".35em" text-anchor="end" transform="rotate(-28.02)">MaltOBP23</text></g>
<g id="MaltOBP12"><text class="tM" x="-480" dy=".35em" text-anchor="end" transform="rotate(-24.49)">MaltOBP12</text></g>
<g id="CbowOBP21"><text class="tC" x="-480" dy=".35em" text-anchor="end" transform="rotate(-20.96)">CbowOBP21</text></g>
<g id="CbowOBP11"><text class="tC" x="-480" dy=".35em" text-anchor="end" transform="rotate(-17.43)">CbowOBP11</text></g>
<g id="CbowOBP16"><text class="tC" x="-480" dy=".35em" text-anchor="end" transform="rotate(-13.90)">CbowOBP16</text></g>
<g id="PverOBP20"><text class="tP" x="-480" dy=".35em" text-anchor="end" transform="rotate(-10.37)">PverOBP20</text></g>
<g id="CbowOBP7"><text class="tC" x="-480" dy=".35em" text-anchor="end" transform="rotate(-6.84)">CbowOBP7</text></g>
<g id="PverOBP2"><text class="tP" x="-480" dy=".35em" text-anchor="end" transform="rotate(-3.31)">PverOBP2</text></g>
<g id="DhelOBP19"><text class="tD" x="-480" dy=".35em" text-anchor="end" transform="rotate(0.22)">DhelOBP19</text></g>
<g id="MaltOBP6"><text class="tM" x="-480" dy=".35em" text-anchor="end" transform="rotate(3.75)">MaltOBP6</text></g>
<g id="MaltOBP15"><text class="tM" x="-480" dy=".35em" text-anchor="end" transform="rotate(7.28)">MaltOBP15</text></g>
<g id="DhelOBP14"><text class="tD" x="-480" dy=".35em" text-anchor="end" transform="rotate(10.81)">DhelOBP14</text></g>
<g id="DhelOBP18"><text class="tD" x="-480" dy=".35em" text-anchor="end" transform="rotate(14.34)">DhelOBP18</text></g>
<g id="CbowOBP20"><text class="tC" x="-480" dy=".35em" text-anchor="end" transform="rotate(17.86)">CbowOBP20</text></g>
<g id="PverOBP4"><text class="tP" x="-480" dy=".35em" text-anchor="end" transform="rotate(21.39)">PverOBP4</text></g>
<g id="MaltOBP3"><text class="tM" x="-480" dy=".35em" text-anchor="end" transform="rotate(24.92)">MaltOBP3</text></g>
<g id="MaltOBP13"><text class="tM" x="-480" dy=".35em" text-anchor="end" transform="rotate(28.45)">MaltOBP13</text></g>
<g id="MaltOBP16"><text class="tM" x="-480" dy=".35em" text-anchor="end" transform="rotate(31.98)">MaltOBP16</text></g>
<g id="CbowOBP2"><text class="tC" x="-480" dy=".35em" text-anchor="end" transform="rotate(35.51)">CbowOBP2</text></g>
<g id="PverOBP5"><text class="tP" x="-480" dy=".35em" text-anchor="end" transform="rotate(39.04)">PverOBP5</text></g>
<g id="DhelOBP16"><text class="tD" x="-480" dy=".35em" text-anchor="end" transform="rotate(42.57)">DhelOBP16</text></g>
<g id="MaltOBP4"><text class="tM" x="-480" dy=".35em" text-anchor="end" transform="rotate(46.10)">MaltOBP4</text></g>
<g id="CbowOBP1"><text class="tC" x="-480" dy=".35em" text-anchor="end" transform="rotate(49.63)">CbowOBP1</text></g>
<g id="DhelOBP15"><text class="tD" x="-480" dy=".35em" text-anchor="end" transform="rotate(53.16)">DhelOBP15</text></g>
<g id="DhelOBP23"><text class="tD" x="-480" dy=".35em" text-anchor="end" transform="rotate(56.69)">DhelOBP23</text></g>
<g id="CbowOBP17"><text class="tC" x="-480" dy=".35em" text-anchor="end" transform="rotate(60.22)">CbowOBP17</text></g>
<g id="PverOBP12"><text class="tP" x="-480" dy=".35em" text-anchor="end" transform="rotate(63.75)">PverOBP12</text></g>
<g id="MaltOBP10"><text class="tM" x="-480" dy=".35em" text-anchor="end" transform="rotate(67.28)">MaltOBP10</text></g>
<g id="DhelOBP13"><text class="tD" x="-480" dy=".35em" text-anchor="end" transform="rotate(70.81)">DhelOBP13</text></g>
<g id="DhelOBP17"><text class="tD" x="-480" dy=".35em" text-anchor="end" transform="rotate(74.34)">DhelOBP17</text></g>
<g id="DhelOBP9"><text class="tD" x="-480" dy=".35em" text-anchor="end" transform="rotate(77.86)">DhelOBP9</text></g>
<g id="MaltOBP24"><text class="tM" x="-480" dy=".35em" text-anchor="end" transform="rotate(81.39)">MaltOBP24</text></g>
<g id="DhelOBP10"><text class="tD" x="-480" dy=".35em" text-anchor="end" transform="rotate(84.92)">DhelOBP10</text></g>
<g id="CbowOBP25"><text class="tC" x="-480" dy=".35em" text-anchor="end" transform="rotate(88.45)">CbowOBP25</text></g>
<g id="PverOBP18"><text class="tP" x="480" dy=".35em" transform="rotate(271.98)">PverOBP18</text></g>
<g id="DhelOBP7"><text class="tD" x="480" dy=".35em" transform="rotate(275.51)">DhelOBP7</text></g>
<g id="DhelOBP8"><text class="tD" x="480" dy=".35em" transform="rotate(279.04)">DhelOBP8</text></g>
<g id="DhelOBP12"><text class="tD" x="480" dy=".35em" transform="rotate(282.57)">DhelOBP12</text></g>
<g id="CbowOBP14"><text class="tC" x="480" dy=".35em" transform="rotate(286.10)">CbowOBP14</text></g>
<g id="CbowOBP8"><text class="tC" x="480" dy=".35em" transform="rotate(289.63)">CbowOBP8</text></g>
<g id="CbowOBP10"><text class="tC" x="480" dy=".35em" transform="rotate(293.16)">CbowOBP10</text></g>
<g id="DhelOBP3"><text class="tD" x="480" dy=".35em" transform="rotate(296.69)">DhelOBP3</text></g>
<g id="DhelOBP4"><text class="tD" x="480" dy=".35em" transform="rotate(300.22)">DhelOBP4</text></g>
<g id="CbowOBP26"><text class="tC" x="480" dy=".35em" transform="rotate(303.75)">CbowOBP26</text></g>
<g id="PverOBP24"><text class="tP" x="480" dy=".35em" transform="rotate(307.28)">PverOBP24</text></g>
<g id="CbowOBP9"><text class="tC" x="480" dy=".35em" transform="rotate(310.81)">CbowOBP9</text></g>
<g id="PverOBP10"><text class="tP" x="480" dy=".35em" transform="rotate(314.34)">PverOBP10</text></g>
<g id="DhelOBP20"><text class="tD" x="480" dy=".35em" transform="rotate(317.86)">DhelOBP20</text></g>
<g id="CbowOBP12"><text class="tC" x="480" dy=".35em" transform="rotate(321.39)">CbowOBP12</text></g>
<g id="PverOBP14"><text class="tP" x="480" dy=".35em" transform="rotate(324.92)">PverOBP14</text></g>
<g id="MaltOBP19"><text class="tM" x="480" dy=".35em" transform="rotate(328.45)">MaltOBP19</text></g>
<g id="DhelOBP22"><text class="tD" x="480" dy=".35em" transform="rotate(331.98)">DhelOBP22</text></g>
<g id="MaltOBP25"><text class="tM" x="480" dy=".35em" transform="rotate(335.51)">MaltOBP25</text></g>
<g id="CbowOBP18"><text class="tC" x="480" dy=".35em" transform="rotate(339.04)">CbowOBP18</text></g>
<g id="PverOBP13"><text class="tP" x="480" dy=".35em" transform="rotate(342.57)">PverOBP13</text></g>
<g id="DhelOBP1"><text class="tD" x="480" dy=".35em" transform="rotate(346.10)">DhelOBP1</text></g>
</g>
</g>
<g id="legend" class="lg">
<text class="tP" x="2596" y="378">Plagiodera versicolora</text>
<text class="tC" x="2596" y="476">Colaphellus bowringi</text>
<text class="tM" x="2596" y="573">Monochamus alternatus</text>
<text class="tD" x="2596" y="673">Dastarcus helophoroides</text>
</g>
<g id="scale">
<line x1="1188" y1="2590" x2="1308" y2="2590" stroke="#222" stroke-width="3"/>
<text x="1248" y="2664" text-anchor="middle" font-size="30" fill="#222">2.0</text>
</g>
</svg>
